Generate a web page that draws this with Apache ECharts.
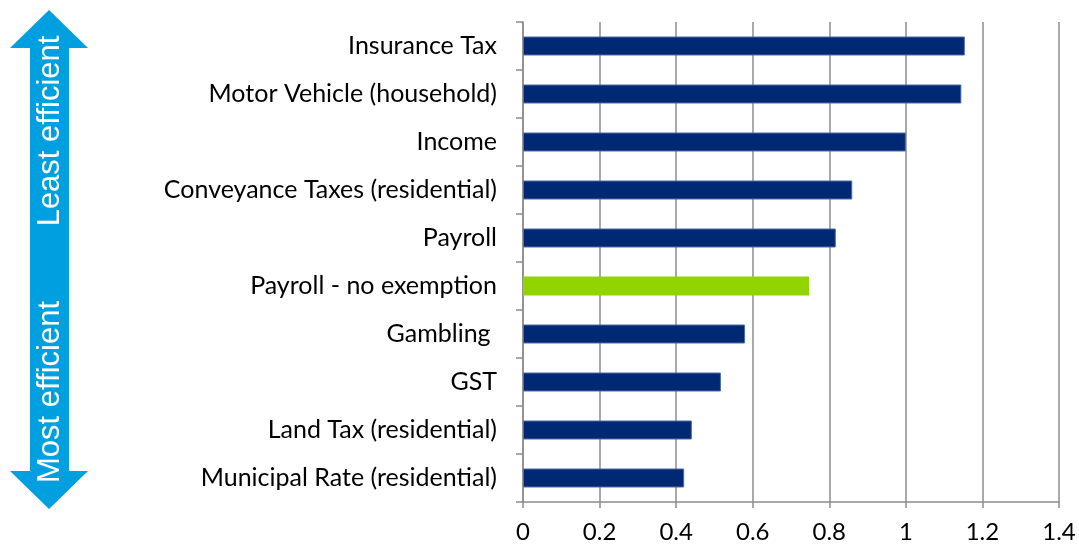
<!DOCTYPE html>
<html>
<head>
<meta charset="utf-8">
<script src="https://cdn.jsdelivr.net/npm/echarts@6/dist/echarts.min.js"></script>
<style>
  html, body { margin: 0; padding: 0; background: #fff; }
  #chart { width: 1079px; height: 548px; }
</style>
</head>
<body>
<div id="chart"></div>
<script>
// top to bottom
var categories = [
  'Insurance Tax',
  'Motor Vehicle (household)',
  'Income',
  'Conveyance Taxes (residential)',
  'Payroll',
  'Payroll - no exemption',
  'Gambling ',
  'GST',
  'Land Tax (residential)',
  'Municipal Rate (residential)'
];
var values = [1.154, 1.145, 1.0, 0.86, 0.817, 0.747, 0.58, 0.517, 0.441, 0.421];
var highlight = 'Payroll - no exemption';
var xTicks = [0, 0.2, 0.4, 0.6, 0.8, 1, 1.2, 1.4];

var navy = '#002873';
var green = '#92D400';
var arrowBlue = '#009FDF';

var barData = categories.map(function (c, i) {
  if (c === highlight) {
    return { value: values[i], itemStyle: { color: green, borderWidth: 0 } };
  }
  return values[i];
});

// double-headed arrow on the left (decoration)
var arrowPts = [
  [49, 10], [88, 48], [69, 48], [69, 471], [88, 471],
  [49, 509], [10, 471], [30, 471], [30, 48], [10, 48]
];

var option = {
  animation: false,
  grid: { left: 523, right: 20, top: 22, bottom: 46 },
  xAxis: {
    type: 'value',
    min: 0,
    max: 1.4,
    interval: 0.2,
    axisLine: { show: true, lineStyle: { color: '#8c8c8c', width: 1.5 } },
    axisTick: { show: true, length: 6, lineStyle: { color: '#8c8c8c', width: 1.5 } },
    splitLine: { show: true, lineStyle: { color: '#8c8c8c', width: 1.5 } },
    axisLabel: {
      margin: 18,
      fontFamily: 'Lato',
      fontSize: 24,
      color: '#000',
      formatter: function (v) {
        var t = xTicks.find(function (x) { return Math.abs(x - v) < 1e-6; });
        return t === undefined ? '' : String(t);
      }
    }
  },
  yAxis: {
    type: 'category',
    inverse: true,
    data: categories,
    axisLine: { show: true, lineStyle: { color: '#8c8c8c', width: 1.5 } },
    axisTick: { show: true, length: 7, lineStyle: { color: '#8c8c8c', width: 1.5 } },
    axisLabel: {
      margin: 26,
      fontFamily: 'Lato',
      fontSize: 25,
      color: '#000'
    }
  },
  series: [{
    type: 'bar',
    data: barData,
    barWidth: 19,
    itemStyle: { color: navy, borderColor: '#4d6ca8', borderWidth: 1 }
  }],
  graphic: [
    {
      type: 'polygon',
      shape: { points: arrowPts },
      style: { fill: arrowBlue }
    },
    {
      type: 'text',
      x: 50, y: 131,
      rotation: Math.PI / 2,
      style: {
        text: 'Least efficient',
        fill: '#fff',
        font: '31px Liberation Sans',
        align: 'center',
        verticalAlign: 'middle'
      }
    },
    {
      type: 'text',
      x: 50, y: 392,
      rotation: Math.PI / 2,
      style: {
        text: 'Most efficient',
        fill: '#fff',
        font: '31px Liberation Sans',
        align: 'center',
        verticalAlign: 'middle'
      }
    }
  ]
};

var myChart = echarts.init(document.getElementById('chart'));
myChart.setOption(option);
</script>
</body>
</html>
